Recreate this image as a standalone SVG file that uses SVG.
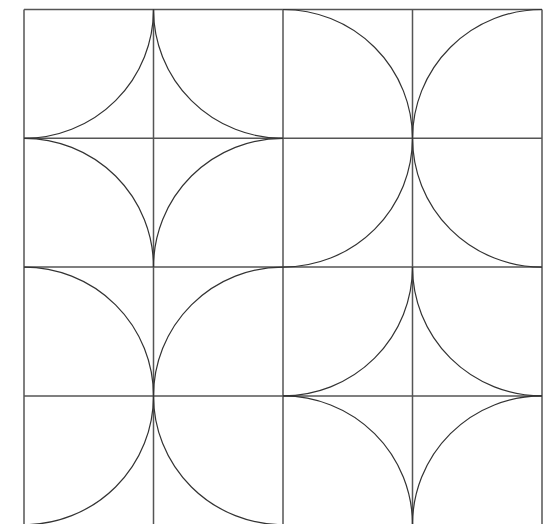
<svg xmlns="http://www.w3.org/2000/svg" width="548" height="524" viewBox="0 0 548 524">
<style>
.grid{fill:none;stroke:#555;stroke-width:1.5}
.arc{fill:none;stroke:#333;stroke-width:1.2}
</style>
<rect width="548" height="524" fill="#fff"/>
<g id="grid" class="grid">
<line x1="24" y1="9.5" x2="24" y2="526"/>
<line x1="153.5" y1="9.5" x2="153.5" y2="526"/>
<line x1="283" y1="9.5" x2="283" y2="526"/>
<line x1="412.5" y1="9.5" x2="412.5" y2="526"/>
<line x1="542" y1="9.5" x2="542" y2="526"/>
<line x1="24" y1="9.5" x2="542" y2="9.5"/>
<line x1="24" y1="138.3" x2="542" y2="138.3"/>
<line x1="24" y1="267.1" x2="542" y2="267.1"/>
<line x1="24" y1="395.9" x2="542" y2="395.9"/>
<line x1="24" y1="524.7" x2="542" y2="524.7"/>
</g>
<g id="star-top-left" class="arc">
<path d="M24,138.3 A129.5,128.8 0 0 0 153.5,9.5"/>
<path d="M153.5,9.5 A129.5,128.8 0 0 0 283,138.3"/>
<path d="M283,138.3 A129.5,128.8 0 0 0 153.5,267.1"/>
<path d="M153.5,267.1 A129.5,128.8 0 0 0 24,138.3"/>
</g>
<g id="semicircles-top-right" class="arc">
<path d="M283,9.5 A129.5,128.8 0 0 1 283,267.1"/>
<path d="M542,9.5 A129.5,128.8 0 0 0 542,267.1"/>
</g>
<g id="semicircles-bottom-left" class="arc">
<path d="M24,267.1 A129.5,128.8 0 0 1 24,524.7"/>
<path d="M283,267.1 A129.5,128.8 0 0 0 283,524.7"/>
</g>
<g id="star-bottom-right" class="arc">
<path d="M283,395.9 A129.5,128.8 0 0 0 412.5,267.1"/>
<path d="M412.5,267.1 A129.5,128.8 0 0 0 542,395.9"/>
<path d="M542,395.9 A129.5,128.8 0 0 0 412.5,524.7"/>
<path d="M412.5,524.7 A129.5,128.8 0 0 0 283,395.9"/>
</g>
</svg>
